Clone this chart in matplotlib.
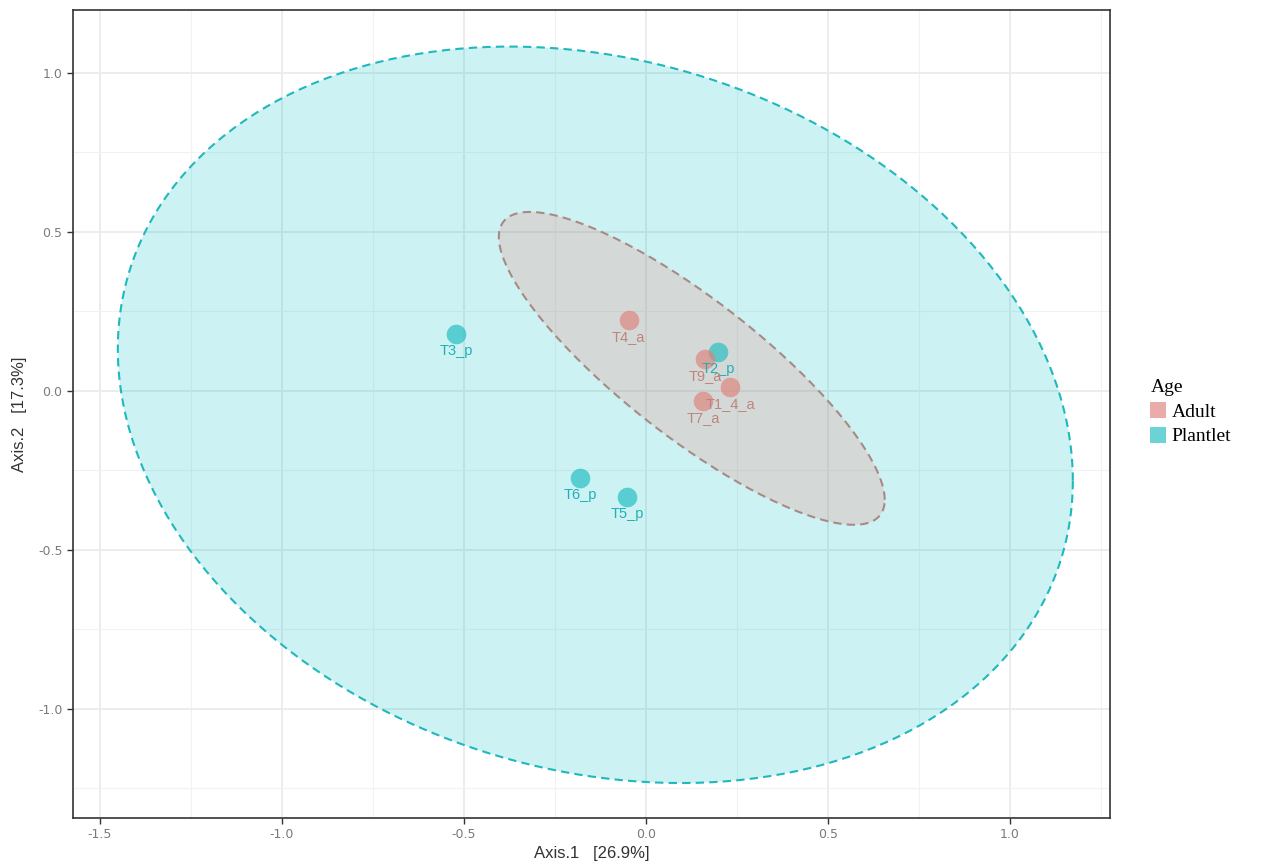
import numpy as np
import matplotlib
matplotlib.use("Agg")
import matplotlib.pyplot as plt
from matplotlib.lines import Line2D

# ---- data ----
samples = ["T3_p", "T4_a", "T2_p", "T9_a", "T1_4_a", "T7_a", "T6_p", "T5_p"]
groups = ["Plantlet", "Adult", "Plantlet", "Adult", "Adult", "Adult", "Plantlet", "Plantlet"]
axis1 = [-0.522, -0.047, 0.198, 0.162, 0.231, 0.157, -0.181, -0.052]
axis2 = [0.179, 0.223, 0.123, 0.100, 0.013, -0.031, -0.274, -0.333]

# ellipse (stat_ellipse) parameters: centre and shape matrix per group
ell_center = {"Adult": (0.126, 0.071), "Plantlet": (-0.139, -0.075)}
ell_shape = {"Adult": [[0.281, -0.219], [-0.219, 0.242]],
             "Plantlet": [[1.721, -0.272], [-0.272, 1.341]]}

colors = {"Adult": "#F8766D", "Plantlet": "#00BFC4"}
point_colors = {"Adult": "#e0807a", "Plantlet": "#1cbcc1"}
label_colors = {"Adult": "#c0837d", "Plantlet": "#1fb0b5"}

xticks = [-1.5, -1.0, -0.5, 0.0, 0.5, 1.0]
yticks = [-1.0, -0.5, 0.0, 0.5, 1.0]

fig = plt.figure(figsize=(12.64, 8.68), dpi=100)
ax = fig.add_axes([73/1264, 50/868, 1037/1264, 808/868])

ax.set_xlim(-1.574, 1.275)
ax.set_ylim(-1.343, 1.198)

# grid
ax.set_xticks(xticks)
ax.set_yticks(yticks)
ax.set_xticks([-1.25, -0.75, -0.25, 0.25, 0.75, 1.25], minor=True)
ax.set_yticks([-1.25, -0.75, -0.25, 0.25, 0.75], minor=True)
ax.grid(True, which="major", color="#ebebeb", lw=1.3, zorder=0)
ax.grid(True, which="minor", color="#f2f2f2", lw=0.8, zorder=0)
ax.set_axisbelow(True)

# ellipses
t = np.linspace(0, 2*np.pi, 400)
for g in ["Plantlet", "Adult"]:
    A = np.array(ell_shape[g])
    L = np.linalg.cholesky(A)
    circ = np.vstack([np.cos(t), np.sin(t)])
    pts = L @ circ
    ex = pts[0] + ell_center[g][0]
    ey = pts[1] + ell_center[g][1]
    ax.fill(ex, ey, color=colors[g], alpha=0.2, lw=0, zorder=1)
    ax.plot(ex, ey, color="#1fb8bd" if g == "Plantlet" else "#a88a85",
            ls=(0, (4, 2.5)), lw=1.5, zorder=2)

# points & labels
for s, g, x, y in zip(samples, groups, axis1, axis2):
    ax.scatter([x], [y], s=200, color=point_colors[g], alpha=0.65, lw=0, zorder=3)
for s, g, x, y in zip(samples, groups, axis1, axis2):
    ax.annotate(s, (x, y), xytext=(0, -12.5), textcoords="offset points",
                ha="center", va="center", fontsize=10.5, color=label_colors[g],
                family="Liberation Sans", zorder=4)

for sp in ax.spines.values():
    sp.set_color("#333333")
    sp.set_linewidth(1.2)
ax.tick_params(which="major", color="#333333", length=4, width=1,
               labelsize=9, labelcolor="#7a7a7a")
ax.tick_params(which="minor", length=0)
ax.set_xticklabels([f"{v:.1f}" for v in xticks])
ax.set_yticklabels([f"{v:.1f}" for v in yticks])

lab_font = dict(family=["Liberation Sans", "DejaVu Sans"],
                fontsize=12, color="#333333")
ax.set_xlabel("Axis.1   [26.9%]", labelpad=3, **lab_font)
ax.set_ylabel("Axis.2   [17.3%]", labelpad=8, **lab_font)

# legend
handles = [Line2D([], [], marker="s", ls="", markersize=11, color=point_colors[g], alpha=0.65,
                  markeredgewidth=0) for g in ["Adult", "Plantlet"]]
leg = fig.legend(handles, ["Adult", "Plantlet"], title="Age",
                 loc="upper left", bbox_to_anchor=(1133/1264, 1 - 362/868),
                 frameon=False, handlelength=0.8, handletextpad=0.3,
                 labelspacing=0.35,
                 prop=dict(family="Liberation Serif", size=14),
                 title_fontproperties=dict(family="Liberation Serif", size=14))
leg._legend_box.align = "left"

fig.savefig("out.png", dpi=100, facecolor="white")
